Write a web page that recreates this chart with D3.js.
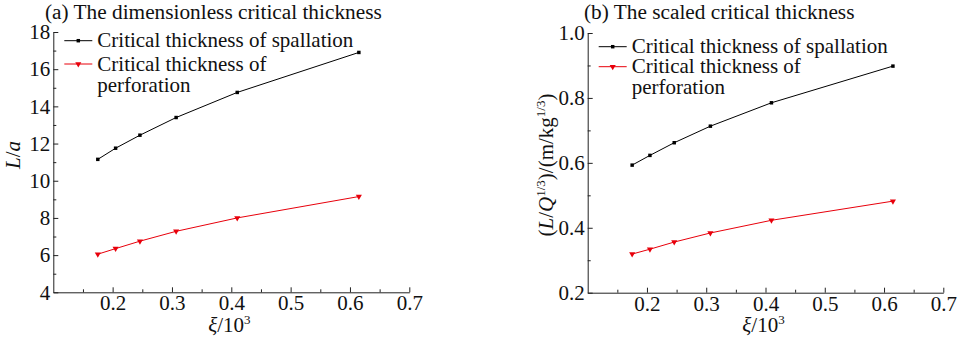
<!DOCTYPE html>
<html>
<head>
<meta charset="utf-8">
<script src="https://cdn.jsdelivr.net/npm/d3@7"></script>
<style>
  body { margin: 0; background: #fff; }
  svg text { font-family: "Liberation Serif", "Times New Roman", serif; fill: #111; }
</style>
</head>
<body>
<div class="canva"></div>
<script>
// data
const xi = [0.175, 0.205, 0.246, 0.307, 0.41, 0.615];
const spallA = [11.15, 11.75, 12.45, 13.4, 14.75, 16.9];
const perfA = [6.05, 6.35, 6.75, 7.28, 8.0, 9.15];
const spallB = [0.593, 0.623, 0.662, 0.713, 0.785, 0.898];
const perfB = [0.319, 0.334, 0.356, 0.384, 0.423, 0.482];

const xTicks = [0.2, 0.3, 0.4, 0.5, 0.6, 0.7];
const xMinor = [0.15, 0.25, 0.35, 0.45, 0.55, 0.65];
const yTicksA = [4, 6, 8, 10, 12, 14, 16, 18];
const yMinorA = [5, 7, 9, 11, 13, 15, 17];
const yTicksB = [0.2, 0.4, 0.6, 0.8, 1.0];
const yMinorB = [0.3, 0.5, 0.7, 0.9];

const legendNames = ["Critical thickness of spallation", "Critical thickness of|perforation"];

const serif = "'Liberation Serif', 'Times New Roman', serif";

const svg = d3.select(".canva").append("svg")
  .attr("width", 959)
  .attr("height", 344);

function drawPanel(p) {
  const x = d3.scaleLinear().domain([0.1, 0.7]).range(p.xr);
  const y = d3.scaleLinear().domain(p.yd).range(p.yr);
  const g = svg.append("g").attr("font-family", serif);

  // minor ticks
  g.append("g").attr("transform", `translate(0,${p.yr[0]})`)
    .call(d3.axisBottom(x).tickValues(xMinor).tickSize(-3).tickSizeOuter(0).tickFormat(""))
    .call(a => a.select(".domain").remove());
  g.append("g").attr("transform", `translate(${p.xr[0]},0)`)
    .call(d3.axisLeft(y).tickValues(p.yMinor).tickSize(-3).tickSizeOuter(0).tickFormat(""))
    .call(a => a.select(".domain").remove());

  // major axes
  const xa = g.append("g").attr("transform", `translate(0,${p.yr[0]})`)
    .call(d3.axisBottom(x).tickValues(xTicks).tickSize(-5).tickSizeOuter(0).tickPadding(3)
      .tickFormat(d3.format(".1f")));
  xa.attr("font-family", serif).attr("font-size", 21);

  const ya = g.append("g").attr("transform", `translate(${p.xr[0]},0)`)
    .call(d3.axisLeft(y).tickValues(p.yTicks).tickSize(-5).tickSizeOuter(0).tickPadding(3)
      .tickFormat(p.yFmt));
  ya.attr("font-family", serif).attr("font-size", 21);

  g.selectAll(".domain, .tick line").attr("stroke", "#222").attr("stroke-width", 1);

  // series
  const series = [
    {vals: p.spall, color: "#000", shape: d3.symbolSquare, size: 12, rot: 0},
    {vals: p.perf, color: "#e8000b", shape: d3.symbolTriangle, size: 16, rot: 180}
  ];
  const line = d3.line().x(d => x(d[0])).y(d => y(d[1]));
  series.forEach(s => {
    const pts = xi.map((v, i) => [v, s.vals[i]]);
    g.append("path").datum(pts)
      .attr("d", line)
      .attr("fill", "none")
      .attr("stroke", s.color)
      .attr("stroke-width", 1);
    g.selectAll(null).data(pts).enter().append("path")
      .attr("d", d3.symbol().type(s.shape).size(s.size))
      .attr("transform", d => `translate(${x(d[0])},${y(d[1])}) rotate(${s.rot})`)
      .attr("fill", s.color);
  });

  // legend
  series.forEach((s, i) => {
    const ly = p.legY[i];
    const lx = p.xr[0] + 11;
    g.append("line")
      .attr("x1", lx).attr("x2", lx + 28)
      .attr("y1", ly).attr("y2", ly)
      .attr("stroke", s.color).attr("stroke-width", 1);
    g.append("path")
      .attr("d", d3.symbol().type(s.shape).size(s.size))
      .attr("transform", `translate(${lx + 14},${ly}) rotate(${s.rot})`)
      .attr("fill", s.color);
    const t = g.append("text")
      .attr("x", lx + 33).attr("y", ly + 6.5)
      .attr("font-size", 21);
    legendNames[i].split("|").forEach((part, k) => {
      t.append("tspan").attr("x", lx + 33).attr("dy", k ? 21 : 0).text(part);
    });
  });

  // title
  g.append("text")
    .attr("x", p.titleX).attr("y", 19)
    .attr("font-size", 21.3)
    .text(p.title);

  // x label
  const xl = g.append("text")
    .attr("x", (p.xr[0] + p.xr[1]) / 2 - 2).attr("y", 332)
    .attr("text-anchor", "middle")
    .attr("font-size", 21);
  xl.append("tspan").attr("font-style", "italic").text("ξ");
  xl.append("tspan").text("/10");
  xl.append("tspan").attr("font-size", 13).attr("dy", -8).text("3");

  // y label
  const yl = g.append("text")
    .attr("transform", `translate(${p.ylX},${p.ylY}) rotate(-90)`)
    .attr("text-anchor", "middle")
    .attr("font-size", 21);
  p.yLabel.forEach(part => {
    const ts = yl.append("tspan").text(part.t);
    if (part.it) ts.attr("font-style", "italic");
    if (part.sup) ts.attr("font-size", 13).attr("dy", -8);
    if (part.down) ts.attr("dy", 8);
  });
}

drawPanel({
  xr: [53.3, 409.3], yr: [292.3, 32], yd: [4, 18],
  yTicks: yTicksA, yMinor: yMinorA, yFmt: d3.format("d"),
  spall: spallA, perf: perfA,
  legY: [40.7, 64],
  title: "(a) The dimensionless critical thickness", titleX: 45,
  ylX: 20, ylY: 155,
  yLabel: [{t: "L", it: true}, {t: "/"}, {t: "a", it: true}]
});

drawPanel({
  xr: [587.7, 943.3], yr: [292.7, 33], yd: [0.2, 1.0],
  yTicks: yTicksB, yMinor: yMinorB, yFmt: d3.format(".1f"),
  spall: spallB, perf: perfB,
  legY: [46.7, 66.7],
  title: "(b) The scaled critical thickness", titleX: 584,
  ylX: 553, ylY: 165,
  yLabel: [{t: "("}, {t: "L", it: true}, {t: "/"}, {t: "Q", it: true},
           {t: "1/3", sup: true}, {t: ")/(m/kg", down: true}, {t: "1/3", sup: true},
           {t: ")", down: true}]
});
</script>
</body>
</html>
